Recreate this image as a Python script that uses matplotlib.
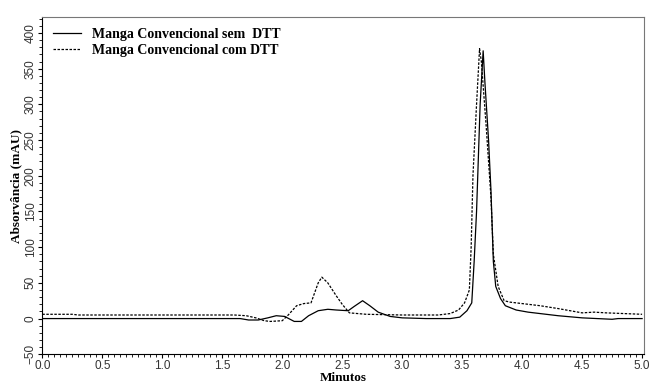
import matplotlib
matplotlib.use("Agg")
import matplotlib.pyplot as plt
from matplotlib.ticker import MultipleLocator, FormatStrFormatter

# Manga Convencional sem DTT (solid)
sem_t = [0.0, 1.0, 1.65, 1.72, 1.8, 1.88, 1.95, 2.02, 2.1, 2.16, 2.22, 2.3, 2.38,
         2.45, 2.55, 2.6, 2.67, 2.73, 2.8, 2.9, 3.0, 3.2, 3.4, 3.48, 3.54, 3.58,
         3.6, 3.62, 3.65, 3.675, 3.69, 3.72, 3.74, 3.76, 3.78, 3.82, 3.86, 3.95,
         4.05, 4.3, 4.5, 4.75, 4.8, 5.0]
sem_y = [0, 0, 0, -2, -2, 1, 4, 3, -4, -4, 4, 11, 13, 12, 11, 17, 25, 18, 9, 3,
         1, 0, 0, 2, 11, 22, 80, 150, 300, 375, 330, 250, 180, 80, 45, 28, 18,
         12, 9, 4, 1, -1, 0, 0]

# Manga Convencional com DTT (dashed)
com_t = [0.0, 0.25, 0.3, 1.0, 1.6, 1.7, 1.78, 1.85, 1.9, 2.0, 2.05, 2.12, 2.18,
         2.24, 2.3, 2.33, 2.38, 2.45, 2.5, 2.56, 2.7, 3.0, 3.3, 3.4, 3.47, 3.52,
         3.56, 3.575, 3.59, 3.62, 3.645, 3.66, 3.7, 3.74, 3.76, 3.8, 3.85, 3.9,
         4.0, 4.15, 4.3, 4.5, 4.6, 4.7, 5.0]
com_y = [6, 6, 5, 5, 5, 4, 1, -3, -4, -3, 5, 18, 21, 22, 50, 58, 50, 32, 20, 8,
         6, 5, 5, 7, 12, 22, 40, 100, 200, 300, 378, 360, 270, 170, 90, 45, 25,
         23, 21, 18, 14, 8, 9, 8, 6]

fig, ax = plt.subplots(figsize=(6.51, 3.83), dpi=100)
fig.subplots_adjust(left=0.065, right=0.99, top=0.955, bottom=0.075)

ax.plot(sem_t, sem_y, color="black", linewidth=0.9, label="Manga Convencional sem  DTT")
ax.plot(com_t, com_y, color="black", linewidth=0.9, linestyle=(0, (2.0, 1.2)),
        label="Manga Convencional com DTT")

ax.set_xlim(0, 5.02)
ax.set_ylim(-50, 422)
ax.xaxis.set_major_locator(MultipleLocator(0.5))
ax.xaxis.set_minor_locator(MultipleLocator(0.05))
ax.yaxis.set_major_locator(MultipleLocator(50))
ax.yaxis.set_minor_locator(MultipleLocator(10))
ax.xaxis.set_major_formatter(FormatStrFormatter("%.1f"))

ax.tick_params(axis="both", which="major", length=3, width=0.8, labelsize=8.5,
               labelcolor="#333333", pad=1)
ax.tick_params(axis="both", which="minor", length=2, width=0.6)
plt.setp(ax.get_xticklabels(), fontfamily="Liberation Sans")
plt.setp(ax.get_yticklabels(), fontfamily="Liberation Sans", rotation=90, va="center")

for side in ("top", "right"):
    ax.spines[side].set_color("#777777")
    ax.spines[side].set_linewidth(0.8)
for side in ("left", "bottom"):
    ax.spines[side].set_linewidth(0.8)

ax.set_xlabel("Minutos", fontfamily="Liberation Serif", fontweight="bold",
              fontsize=9.5, labelpad=0)
ax.set_ylabel("Absorvância (mAU)", fontfamily="Liberation Serif", fontweight="bold",
              fontsize=9.5, labelpad=2)

ax.legend(loc="upper left", frameon=False, handlelength=2.0, handletextpad=0.8,
          borderaxespad=0.4, labelspacing=0.2,
          prop={"family": "Liberation Serif", "weight": "bold", "size": 10})

fig.savefig("out.png", dpi=100)
